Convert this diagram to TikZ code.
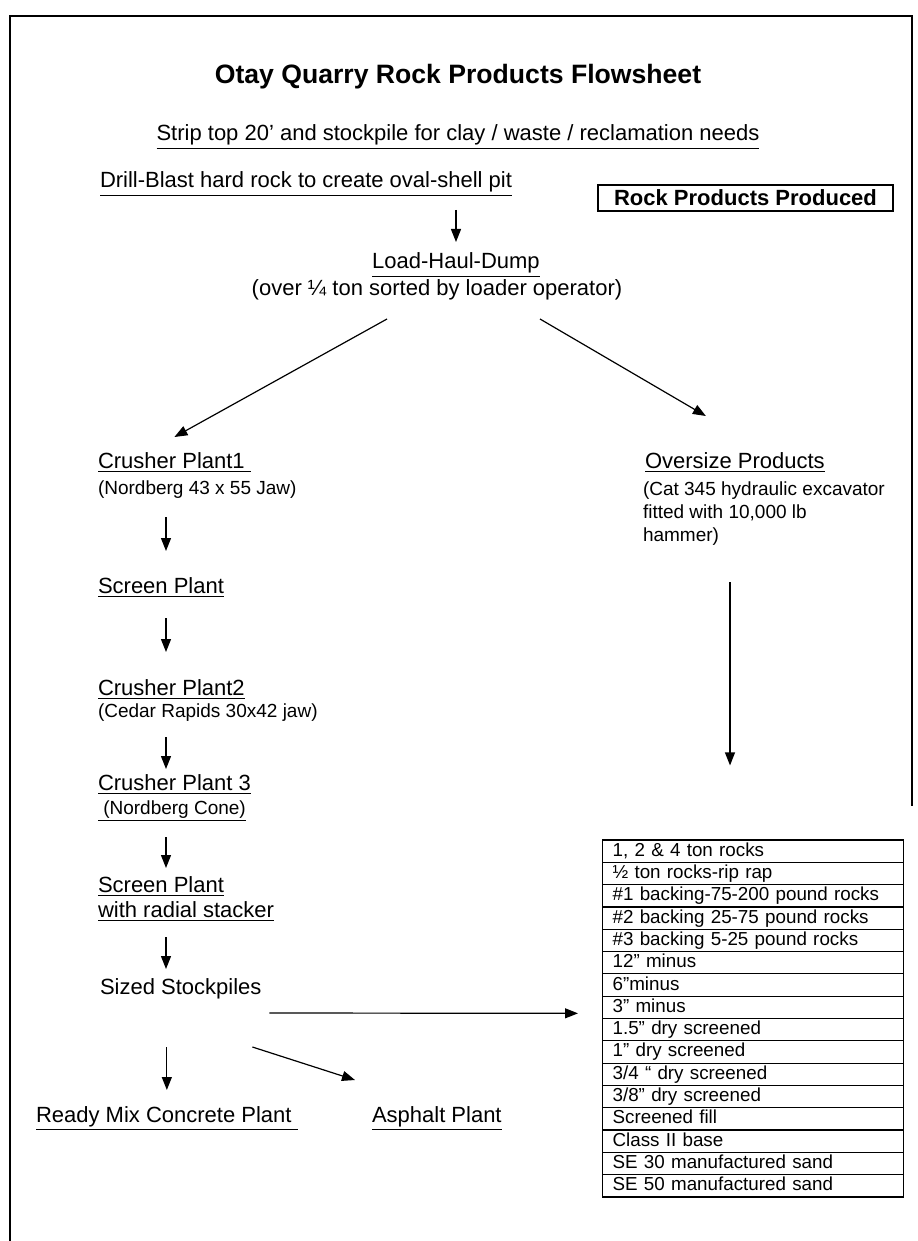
\documentclass[tikz,border=0pt]{standalone}
\usepackage{fontspec}
\setmainfont{Liberation Sans}
\usetikzlibrary{arrows.meta}

\tikzset{
  lbl/.style={inner sep=0pt, outer sep=0pt, anchor=base west, font=\fontsize{11}{13}\selectfont, text height=9pt, text depth=3pt},
  sub/.style={lbl, font=\fontsize{9.5}{11.5}\selectfont, text height=8pt},
  flow/.style={-{Triangle[length=6.5pt,width=5pt]}, line width=0.6pt},
  rowbox/.style={draw, line width=0.6pt, anchor=west, inner xsep=5pt, inner ysep=0pt, minimum height=11.15pt, text width=140.5pt, text height=7pt, text depth=2pt, align=left, font=\fontsize{9.4}{11}\selectfont}
}

\begin{document}
\begin{tikzpicture}[x=0.5pt,y=-0.5pt]
    \useasboundingbox (0,0) rectangle (917,1241);
    % page frame, open at the bottom
    \draw[line width=0.7pt] (10,1241) -- (10,16) -- (912,16) -- (912,806);

    \node[lbl, anchor=base, font=\fontsize{13.3}{16}\selectfont\bfseries] (title) at (458,84) {Otay Quarry Rock Products Flowsheet};
    \node[lbl, anchor=base] (strip) at (458,141) {\underline{Strip top 20’ and stockpile for clay / waste / reclamation needs}};
    \node[lbl] (drill) at (100,188) {\underline{Drill-Blast hard rock to create oval-shell pit}};
    \node[draw, line width=0.6pt, font=\fontsize{11}{13}\selectfont\bfseries, minimum width=147.5pt, minimum height=13pt, inner sep=0pt] (rpp) at (745.5,198) {Rock Products Produced};
    \node[lbl, anchor=base] (lhd) at (456,269) {\underline{Load-Haul-Dump}};
    \node[lbl, anchor=base] (lhdsub) at (437,295) {(over ¼ ton sorted by loader operator)};

    % crushing line
    \node[lbl] (cp1) at (98,468) {\underline{Crusher Plant1\ }};
    \node[sub] (cp1sub) at (98,494) {(Nordberg 43 x 55 Jaw)};
    \node[lbl] (sp1) at (98,593) {\underline{Screen Plant}};
    \node[lbl] (cp2) at (98,695) {\underline{Crusher Plant2}};
    \node[sub] (cp2sub) at (98,717) {(Cedar Rapids 30x42 jaw)};
    \node[lbl] (cp3) at (98,790) {\underline{Crusher Plant 3}};
    \node[sub] (cp3sub) at (98,814) {\underline{\ (Nordberg Cone)}};
    \node[lbl] (sp2) at (98,892) {\underline{Screen Plant}};
    \node[lbl] (sp2b) at (98,917) {\underline{with radial stacker}};
    \node[lbl] (ssp) at (100,994) {Sized Stockpiles};
    \node[lbl] (rmc) at (36,1122) {\underline{Ready Mix Concrete Plant\ }};
    \node[lbl] (asp) at (372,1122) {\underline{Asphalt Plant}};

    % oversize branch
    \node[lbl] (ovs) at (645,468) {\underline{Oversize Products}};
    \node[sub] (ovsa) at (643,495) {(Cat 345 hydraulic excavator};
    \node[sub] (ovsb) at (643,518) {fitted with 10,000 lb};
    \node[sub] (ovsc) at (643,541) {hammer)};

    % product list
    \foreach \txt [count=\i] in {{1, 2 \& 4 ton rocks}, {½ ton rocks-rip rap}, {\#1 backing-75-200 pound rocks},
        {\#2 backing 25-75 pound rocks}, {\#3 backing 5-25 pound rocks}, {12” minus}, {6”minus}, {3” minus},
        {1.5” dry screened}, {1” dry screened}, {3/4 “ dry screened}, {3/8” dry screened},
        {Screened fill}, {Class II base}, {SE 30 manufactured sand}, {SE 50 manufactured sand}}
        \node[rowbox] (row\i) at (602,{840+(\i-0.5)*22.31}) {\txt};

    \coordinate (colx) at (166,0);
    \coordinate (colr) at (730,0);

    \draw[flow, shorten <=8pt, shorten >=4.5pt] (drill.south -| lhd.north) -- (lhd.north);
    \draw[flow] ([xshift=-25pt,yshift=-9pt]lhdsub.south) -- ([yshift=6.5pt]cp1.north);
    \draw[flow] ([xshift=51.5pt,yshift=-9pt]lhdsub.south) -- ([xshift=-14.5pt,yshift=17pt]ovs.north);

    \draw[flow, shorten <=8.5pt, shorten >=12pt] (cp1sub.south -| colx) -- (sp1.north -| colx);
    \draw[flow, shorten <=9.5pt, shorten >=12.5pt] (sp1.south -| colx) -- (cp2.north -| colx);
    \draw[flow, shorten <=7pt, shorten >=1.5pt] (cp2sub.south -| colx) -- (cp3.north -| colx);
    \draw[flow, shorten <=8.5pt, shorten >=3pt] (cp3sub.south -| colx) -- (sp2.north -| colx);
    \draw[flow, shorten <=7pt, shorten >=3.5pt] (sp2b.south -| colx) -- (ssp.north -| colx);
    \draw[flow, shorten <=23.5pt, shorten >=7pt] (ssp.south -| rmc.north) -- (rmc.north);
    \draw[flow] ([xshift=-4.5pt,yshift=-23.5pt]ssp.south east) -- ([xshift=-8.5pt,yshift=12pt]asp.north west);
    \draw[flow] ([xshift=4pt,yshift=-12.5pt]ssp.east) -- ([xshift=-12pt,yshift=-3pt]row8.west);

    \draw[flow, shorten <=17.5pt, shorten >=37pt] (ovsc.south -| colr) -- (row1.north -| colr);
\end{tikzpicture}
\end{document}
